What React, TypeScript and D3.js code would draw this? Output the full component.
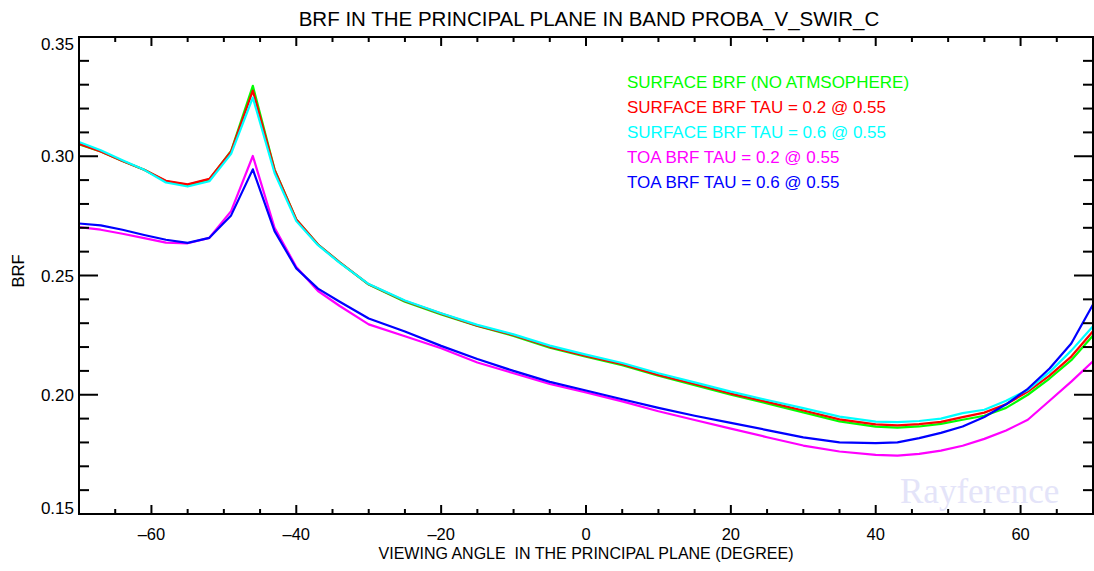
import React from 'react';
import * as d3 from 'd3';

// viewing angles (degrees) and BRF values
const angles = [-70, -67, -64, -61, -58, -55, -52, -49, -46, -43, -40, -37, -34, -30, -25, -20, -15, -10, -5, 0, 5, 10, 15, 20, 25, 30, 35, 40, 43, 46, 49, 52, 55, 58, 61, 64, 67, 70];

const surfaceNoAtm = [0.3050, 0.3020, 0.2980, 0.2943, 0.2895, 0.2880, 0.2903, 0.3022, 0.3295, 0.2945, 0.2735, 0.2630, 0.2555, 0.2462, 0.2390, 0.2337, 0.2288, 0.2247, 0.2197, 0.2160, 0.2124, 0.2080, 0.2040, 0.2000, 0.1964, 0.1926, 0.1888, 0.1866, 0.1862, 0.1867, 0.1878, 0.1895, 0.1912, 0.1945, 0.2000, 0.2068, 0.2145, 0.2248];
const surfaceTau02 = [0.3052, 0.3020, 0.2980, 0.2943, 0.2897, 0.2882, 0.2905, 0.3020, 0.3275, 0.2943, 0.2735, 0.2630, 0.2555, 0.2463, 0.2393, 0.2340, 0.2290, 0.2250, 0.2201, 0.2163, 0.2128, 0.2083, 0.2045, 0.2005, 0.1970, 0.1934, 0.1897, 0.1876, 0.1872, 0.1877, 0.1886, 0.1906, 0.1925, 0.1960, 0.2013, 0.2080, 0.2160, 0.2266];
const surfaceTau06 = [0.3060, 0.3025, 0.2983, 0.2943, 0.2890, 0.2873, 0.2895, 0.3010, 0.3246, 0.2930, 0.2728, 0.2627, 0.2553, 0.2464, 0.2395, 0.2342, 0.2293, 0.2253, 0.2206, 0.2168, 0.2133, 0.2090, 0.2052, 0.2013, 0.1978, 0.1944, 0.1908, 0.1887, 0.1885, 0.1890, 0.1900, 0.1923, 0.1937, 0.1975, 0.2020, 0.2095, 0.2185, 0.2287];
const toaTau02 = [0.2703, 0.2692, 0.2675, 0.2657, 0.2638, 0.2635, 0.2658, 0.2770, 0.3001, 0.2700, 0.2536, 0.2435, 0.2372, 0.2295, 0.2245, 0.2195, 0.2135, 0.2090, 0.2045, 0.2010, 0.1972, 0.1931, 0.1894, 0.1858, 0.1822, 0.1787, 0.1762, 0.1748, 0.1745, 0.1752, 0.1766, 0.1786, 0.1815, 0.1850, 0.1895, 0.1975, 0.2055, 0.2140];
const toaTau06 = [0.2718, 0.2710, 0.2692, 0.2670, 0.2650, 0.2637, 0.2658, 0.2752, 0.2945, 0.2686, 0.2530, 0.2445, 0.2390, 0.2320, 0.2265, 0.2205, 0.2150, 0.2100, 0.2054, 0.2018, 0.1981, 0.1945, 0.1912, 0.1882, 0.1852, 0.1821, 0.1800, 0.1797, 0.1800, 0.1818, 0.1840, 0.1867, 0.1907, 0.1960, 0.2025, 0.2110, 0.2215, 0.2378];

const seriesNames = [
  'SURFACE BRF (NO ATMSOPHERE)',
  'SURFACE BRF TAU = 0.2 @ 0.55',
  'SURFACE BRF TAU = 0.6 @ 0.55',
  'TOA BRF TAU = 0.2 @ 0.55',
  'TOA BRF TAU = 0.6 @ 0.55',
];
const seriesColors = ['#00ff00', '#ff0000', '#00ffff', '#ff00ff', '#0000ff'];
const seriesValues = [surfaceNoAtm, surfaceTau02, surfaceTau06, toaTau02, toaTau06];

const xMajorTicks = [-60, -40, -20, 0, 20, 40, 60];
const yMajorTicks = [0.15, 0.20, 0.25, 0.30, 0.35];

const W = 1094;
const H = 571;
const FONT = '"Liberation Sans", Arial, Helvetica, sans-serif';

export default function App() {
  const left = 79, right = 1093, top = 37, bottom = 514;
  const x = d3.scaleLinear().domain([-70, 70]).range([left, right]);
  const y = d3.scaleLinear().domain([0.15, 0.35]).range([bottom, top]);

  const line = d3.line<number>()
    .x((d, i) => x(angles[i]))
    .y(d => y(d));

  const xMinor = d3.range(-70, 70.01, 5);
  const yMinor = d3.range(0.15, 0.3501, 0.01);

  // IDL nudges the end labels inside the axis range
  const yLabelShift = (v: number) => (v > 0.349 ? 7 : v < 0.151 ? -6 : 0);

  return (
    <svg width={W} height={H} style={{ position: 'absolute', left: 0, top: 0, background: '#fff' }}>
      <rect width={W} height={H} fill="#fff" />
      <text x={589} y={26} textAnchor="middle" fontFamily={FONT} fontSize={20.5} fill="#000">
        BRF IN THE PRINCIPAL PLANE IN BAND PROBA_V_SWIR_C
      </text>

      {/* watermark */}
      <text x={900} y={503} fontFamily='"Liberation Serif", "Times New Roman", serif' fontSize={35} fill="#e4e4f9">
        Rayference
      </text>

      <defs>
        <clipPath id="plotclip">
          <rect x={left} y={top} width={right - left} height={bottom - top} />
        </clipPath>
      </defs>
      <g clipPath="url(#plotclip)">
        {seriesValues.map((vals, i) => (
          <path key={i} d={line(vals) || ''} fill="none" stroke={seriesColors[i]} strokeWidth={2.2} strokeLinejoin="round" />
        ))}
      </g>

      {/* frame */}
      <rect x={left} y={top} width={right - left} height={bottom - top} fill="none" stroke="#000" strokeWidth={2} />

      {/* x ticks, bottom and top */}
      {xMinor.map(v => {
        const major = Math.abs(v % 20) < 1e-6;
        const len = major ? 9 : 5;
        return (
          <g key={'x' + v} stroke="#000" strokeWidth={2}>
            <line x1={x(v)} x2={x(v)} y1={bottom} y2={bottom - len} />
            <line x1={x(v)} x2={x(v)} y1={top} y2={top + len} />
          </g>
        );
      })}
      {/* y ticks, left and right */}
      {yMinor.map(v => {
        const major = Math.abs(Math.round(v * 100) % 5) === 0;
        const len = major ? 19 : 10;
        return (
          <g key={'y' + v.toFixed(2)} stroke="#000" strokeWidth={2}>
            <line x1={left} x2={left + len} y1={y(v)} y2={y(v)} />
            <line x1={right} x2={right - len} y1={y(v)} y2={y(v)} />
          </g>
        );
      })}

      {xMajorTicks.map(v => (
        <text key={'xl' + v} x={x(v)} y={540} textAnchor="middle" fontFamily={FONT} fontSize={16.5} fill="#000">
          {v < 0 ? '\u2013' + Math.abs(v) : String(v)}
        </text>
      ))}
      {yMajorTicks.map(v => (
        <text key={'yl' + v} x={74} y={y(v) + 6 + yLabelShift(v)} textAnchor="end" fontFamily={FONT} fontSize={17} fill="#000">
          {v.toFixed(2)}
        </text>
      ))}

      <text x={586} y={559} textAnchor="middle" fontFamily={FONT} fontSize={16} fill="#000" style={{ whiteSpace: 'pre' }}>
        VIEWING ANGLE  IN THE PRINCIPAL PLANE (DEGREE)
      </text>
      <text transform="translate(24,271) rotate(-90)" textAnchor="middle" fontFamily={FONT} fontSize={16.5} fill="#000">
        BRF
      </text>

      {seriesNames.map((name, i) => (
        <text key={name} x={627} y={88 + i * 25} fontFamily={FONT} fontSize={17} fill={seriesColors[i]}>
          {name}
        </text>
      ))}
    </svg>
  );
}
